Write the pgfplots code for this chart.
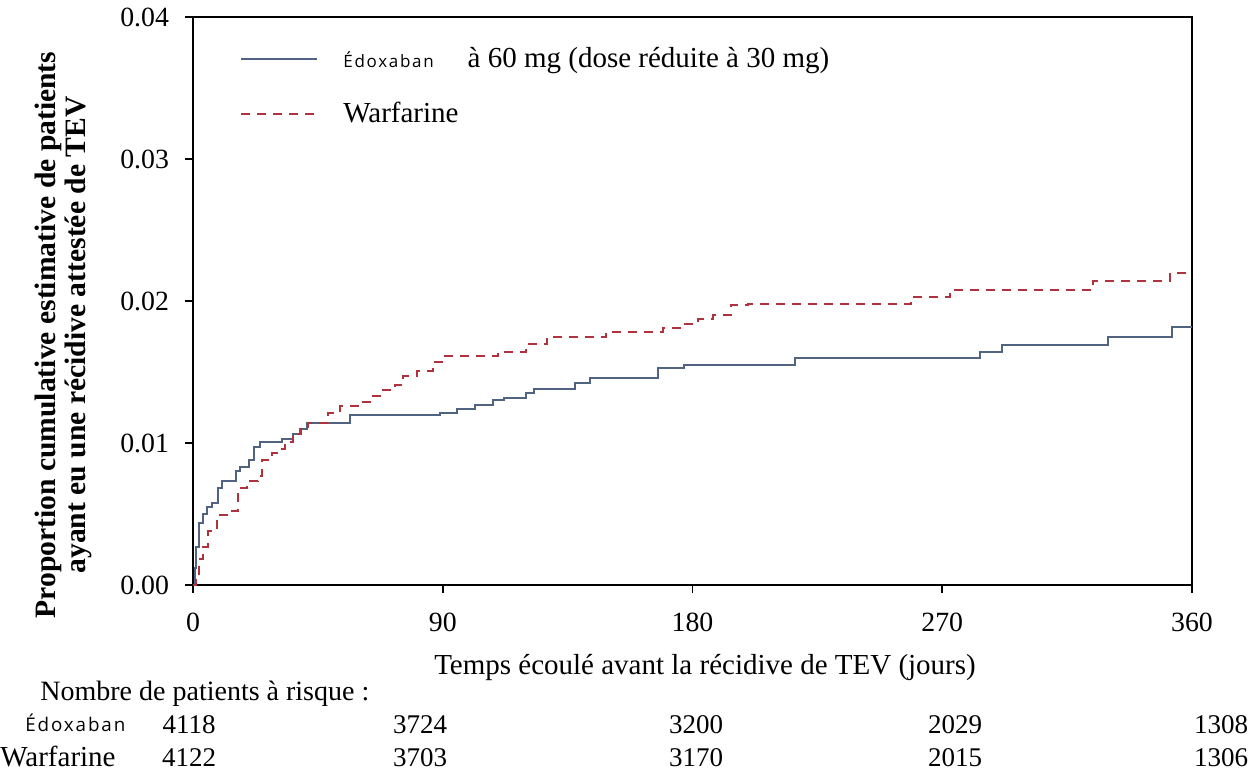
\documentclass[border=0pt]{standalone}
\usepackage{fontspec}
\setmainfont{Liberation Serif}
\newfontfamily\edfont{Open Sans}[LetterSpace=10]
\usepackage{pgfplots}
\pgfplotsset{compat=1.18}
\definecolor{edo}{RGB}{80,100,130}
\definecolor{war}{RGB}{175,50,60}
\begin{document}
\begin{tikzpicture}
\path[use as bounding box] (0,0) rectangle (624pt,389pt);
\begin{axis}[
  at={(96.5pt,96.5pt)}, anchor=south west, scale only axis,
  width=499.5pt, height=284pt,
  xmin=0, xmax=360, ymin=0, ymax=0.04,
  xtick={0,90,180,270,360}, ytick={0,0.01,0.02,0.03,0.04},
  tick align=outside, tick pos=left, major tick length=4pt,
  axis line style={line width=1pt},
  every tick/.style={black, line width=0.8pt},
  scaled y ticks=false,
  /pgf/number format/assume math mode=true,
  yticklabel style={/pgf/number format/fixed, /pgf/number format/fixed zerofill, /pgf/number format/precision=2, font=\fontsize{13.9}{15}\selectfont, xshift=-4.5pt},
  xticklabel style={font=\fontsize{13.9}{15}\selectfont, yshift=-6.5pt},
  legend cell align=left,
  legend style={draw=none, fill=none, at={(axis description cs:0.047,0.955)}, anchor=north west,
    font=\fontsize{14.5}{16}\selectfont, row sep=12pt, inner sep=0pt,
    /tikz/every odd column/.style={column sep=10.5pt}},
  legend image code/.code={\draw[#1] (0pt,0pt) -- (38pt,0pt);},
]
\addplot[const plot, color=edo, line width=1pt] coordinates {
(0,0) (0.7,0.0012) (1.2,0.0027) (2.3,0.0044) (3.5,0.0050) (5,0.0055) (7,0.0058)
(9,0.0068) (10.5,0.0073) (15.5,0.0080) (17,0.0083) (20,0.0088) (22,0.0097)
(24,0.0101) (32,0.0103) (36,0.0106) (38.5,0.0110) (41,0.0114) (56.5,0.0120)
(89,0.0121) (95,0.0124) (101.6,0.0127) (108,0.0130) (112,0.0132) (120,0.0135)
(123,0.0138) (137.6,0.0142) (143,0.0146) (167.6,0.0153) (177,0.0155)
(217,0.0160) (283.6,0.0164) (291.4,0.0169) (329.7,0.0175) (352.7,0.0182) (360,0.0182)
};
\addlegendentry{{\edfont\fontsize{8.5}{10}\selectfont Édoxaban}\hspace{17pt}à 60 mg (dose réduite à 30 mg)}
\addplot[const plot, color=war, line width=1pt, dash pattern=on 4.5pt off 3.5pt] coordinates {
(0,0) (1,0.0008) (2,0.0018) (3.6,0.0027) (5.5,0.0038) (8.6,0.0049) (13,0.0052)
(16.2,0.0068) (19.5,0.0073) (23.5,0.0077) (24.8,0.0088) (28.5,0.0093) (31.4,0.0096)
(33,0.0101) (36,0.0106) (39,0.0111) (41.5,0.0114) (48.6,0.0121) (53,0.0126)
(60,0.0129) (63.8,0.0133) (67.4,0.0137) (72.8,0.0141) (75.7,0.0147) (80.7,0.0151)
(86.5,0.0157) (90.8,0.0161) (110,0.0164) (120,0.0170) (127.6,0.0173) (128.6,0.0175)
(149,0.0178) (169.4,0.0181) (175.5,0.0184) (182,0.0187) (187.4,0.0190) (194,0.0197)
(200,0.0198) (258.6,0.0203) (272.8,0.0208) (324.4,0.0214) (352,0.0220) (360,0.0220)
};
\addlegendentry{Warfarine}
\end{axis}
\begin{scope}[x=0.5pt, y=-0.5pt, yshift=389pt, every node/.style={inner sep=0pt}]
\node[anchor=base, font=\fontsize{14.5}{16}\selectfont] at (705,674) {Temps écoulé avant la récidive de TEV (jours)};
\node[anchor=base west, font=\fontsize{14}{16}\selectfont] at (40,700) {Nombre de patients à risque :};
\node[anchor=base west, font=\edfont\fontsize{9.4}{11}\selectfont] at (25,731) {Édoxaban};
\node[anchor=base west, font=\fontsize{14.5}{16}\selectfont] at (0,766) {Warfarine};
\begin{scope}[every node/.append style={anchor=base, font=\fontsize{13.5}{15}\selectfont}]
\node at (189,733) {4118};
\node at (420,733) {3724};
\node at (696,733) {3200};
\node at (955,733) {2029};
\node at (1221,733) {1308};
\node at (189,766) {4122};
\node at (420,766) {3703};
\node at (696,766) {3170};
\node at (955,766) {2015};
\node at (1221,766) {1306};
\end{scope}
\node[rotate=90, align=center, font=\bfseries\fontsize{14.8}{15}\selectfont] at (63,335)
  {Proportion cumulative estimative de patients\\ayant eu une récidive attestée de TEV};
\end{scope}
\end{tikzpicture}
\end{document}
